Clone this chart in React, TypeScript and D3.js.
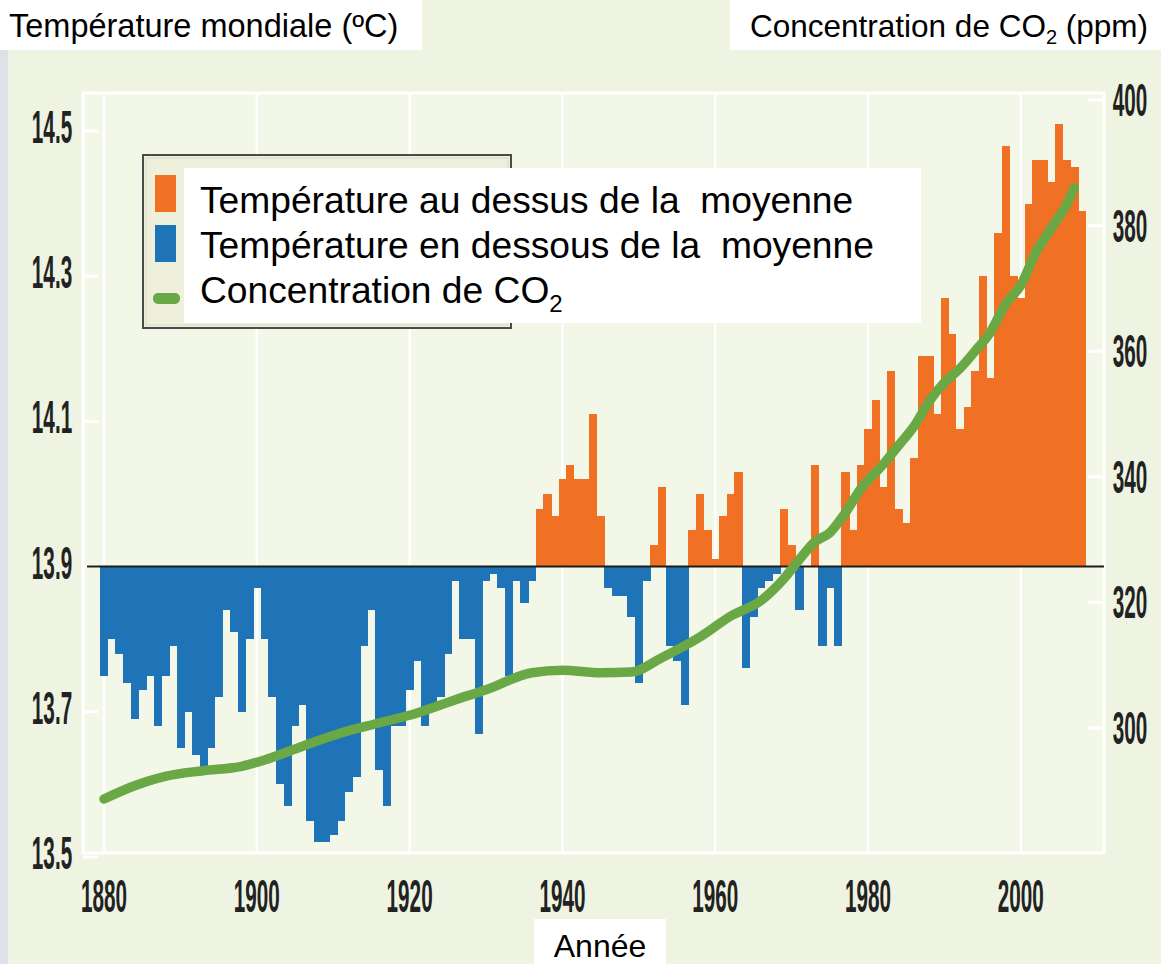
import * as React from 'react';
import * as d3 from 'd3';

// Température mondiale annuelle (°C), 1880 -> 2008, une valeur par an
const firstYear = 1880;
const temperatures = [
  13.75, 13.8, 13.78, 13.74, 13.69, 13.73, 13.75, 13.68, 13.75, 13.79,
  13.65, 13.7, 13.64, 13.62, 13.65, 13.72, 13.84, 13.81, 13.7, 13.8,
  13.87, 13.8, 13.72, 13.6, 13.57, 13.68, 13.71, 13.55, 13.52, 13.52,
  13.53, 13.55, 13.59, 13.61, 13.79, 13.84, 13.62, 13.57, 13.68, 13.68,
  13.73, 13.77, 13.68, 13.71, 13.72, 13.78, 13.88, 13.8, 13.8, 13.67,
  13.88, 13.89, 13.87, 13.75, 13.88, 13.85, 13.88, 13.98, 14.0, 13.97,
  14.02, 14.04, 14.02, 14.02, 14.11, 13.97, 13.87, 13.86, 13.86, 13.83,
  13.74, 13.88, 13.93, 14.01, 13.79, 13.77, 13.71, 13.95, 14.0, 13.95,
  13.91, 13.97, 14.0, 14.03, 13.76, 13.83, 13.87, 13.88, 13.89, 13.98,
  13.93, 13.84, 13.9, 14.04, 13.79, 13.87, 13.79, 14.03, 13.95, 14.04,
  14.09, 14.13, 14.01, 14.17, 13.98, 13.96, 14.05, 14.19, 14.19, 14.11,
  14.27, 14.22, 14.09, 14.12, 14.17, 14.3, 14.16, 14.36, 14.48, 14.3,
  14.27, 14.4, 14.46, 14.46, 14.43, 14.51, 14.46, 14.45, 14.39,
];
const years = temperatures.map((_, i) => firstYear + i);
const baseline = 13.9;

// Concentration de CO2 (ppm)
const co2Years = [
  1880, 1884, 1888, 1893, 1898, 1901, 1906, 1911, 1916, 1921, 1926, 1930,
  1936, 1940, 1945, 1949, 1953, 1958, 1962, 1966, 1969, 1971, 1973, 1975,
  1977, 1979, 1982, 1984, 1986, 1988, 1990, 1992, 1994, 1996, 1998, 2000,
  2002, 2004, 2006, 2007,
];
const co2Values = [
  288.7, 290.8, 292.3, 293.2, 293.9, 294.9, 297.1, 299.2, 300.8, 302.4, 304.5, 306.1,
  308.8, 309.2, 308.8, 308.9, 311.2, 314.5, 317.8, 320.3, 323.8, 326.8, 329.6, 331.1,
  334.2, 338.0, 342.0, 345.0, 348.0, 352.0, 355.0, 357.2, 360.0, 363.0, 367.5, 370.5,
  375.8, 379.6, 383.4, 386.0,
];

const yearTicks = [1880, 1900, 1920, 1940, 1960, 1980, 2000];
const tempTicks = [13.5, 13.7, 13.9, 14.1, 14.3, 14.5];
const co2Ticks = [300, 320, 340, 360, 380, 400];

const legendItems = [
  { label: 'Température au dessus de la  moyenne', kind: 'above' },
  { label: 'Température en dessous de la  moyenne', kind: 'below' },
  { label: 'Concentration de CO', kind: 'co2' },
];

const W = 1161;
const H = 964;
const ORANGE = '#f07024';
const BLUE = '#1f74b8';
const GREEN = '#6aa845';
const FONT = 'Liberation Sans, Arial, sans-serif';

const x = d3
  .scaleBand<number>()
  .domain(years)
  .range([100.2, 100.2 + years.length * 7.64])
  .paddingInner(0);
const bw = x.bandwidth();
const xc = (yr: number) => (x(yr) as number) + bw / 2;
const y = d3.scaleLinear().domain([13.5, 14.5]).range([857, 131]);
const yCo2 = d3.scaleLinear().domain([300, 400]).range([728, 100]);

const co2Line = d3
  .line<number>()
  .x((_, i) => xc(co2Years[i]))
  .y((v) => yCo2(v))
  .curve(d3.curveMonotoneX);

const plot = { left: 83, top: 93, right: 1104, bottom: 853 };

// condensed tick label, squeezed horizontally
const TickLabel = ({ cx, by, text }: { cx: number; by: number; text: string }) => (
  <text
    transform={`translate(${cx},${by}) scale(0.45,1)`}
    textAnchor="middle"
    fontFamily={FONT}
    fontWeight="bold"
    fontSize={46}
    fill="#222"
  >
    {text}
  </text>
);

export default function App() {
  const y0 = y(baseline);

  return (
    <svg
      width={W}
      height={H}
      viewBox={`0 0 ${W} ${H}`}
      style={{ position: 'absolute', left: 0, top: 0, display: 'block' }}
    >
      <rect width={W} height={H} fill="#eef4e1" />
      <rect x={0} y={50} width={8} height={H - 50} fill="#dfe1e6" />

      {/* plot panel */}
      <rect
        x={plot.left}
        y={plot.top}
        width={plot.right - plot.left}
        height={plot.bottom - plot.top}
        fill="#f3f7e8"
        stroke="#ffffff"
        strokeWidth={3}
      />
      {yearTicks.map((yr) => (
        <line
          key={yr}
          x1={xc(yr)}
          x2={xc(yr)}
          y1={plot.top}
          y2={plot.bottom}
          stroke="#ffffff"
          strokeWidth={2.5}
        />
      ))}
      {tempTicks.map((t) => (
        <line key={t} x1={plot.left} x2={98} y1={y(t)} y2={y(t)} stroke="#ffffff" strokeWidth={3} />
      ))}
      {co2Ticks.map((c) => (
        <line key={c} x1={1088} x2={plot.right} y1={yCo2(c)} y2={yCo2(c)} stroke="#ffffff" strokeWidth={3} />
      ))}

      {/* bars */}
      {temperatures.map((t, i) => {
        const yr = years[i];
        const yt = y(t);
        return (
          <rect
            key={yr}
            x={x(yr)}
            y={Math.min(yt, y0)}
            width={bw + 0.6}
            height={Math.abs(yt - y0)}
            fill={t >= baseline ? ORANGE : BLUE}
            shapeRendering="crispEdges"
          />
        );
      })}
      <line x1={87} x2={plot.right} y1={y0} y2={y0} stroke="#1c1c1c" strokeWidth={2} />

      {/* CO2 */}
      <path
        d={co2Line(co2Values) || ''}
        fill="none"
        stroke={GREEN}
        strokeWidth={9.5}
        strokeLinecap="round"
        strokeLinejoin="round"
      />

      {/* legend */}
      <rect x={143} y={155} width={368} height={173} fill="#eef0dc" stroke="#4a4a4a" strokeWidth={2} />
      <rect x={146} y={158} width={362} height={167} fill="none" stroke="#d8dac8" strokeWidth={1} />
      <rect x={184} y={168} width={737} height={155} fill="#ffffff" />
      {legendItems.map((it, i) => {
        const base = 213 + i * 45;
        return (
          <g key={it.kind}>
            {it.kind === 'co2' ? (
              <rect x={153} y={base - 10} width={27} height={11} rx={5} fill={GREEN} />
            ) : (
              <rect
                x={155}
                y={i === 0 ? 175 : 225}
                width={21}
                height={37}
                fill={it.kind === 'above' ? ORANGE : BLUE}
              />
            )}
            <text
              x={200}
              y={base}
              fontFamily={FONT}
              fontSize={37.2}
              fill="#000"
              style={{ whiteSpace: 'pre' }}
            >
              {it.label}
              {it.kind === 'co2' && (
                <tspan fontSize={24} dy={9}>
                  2
                </tspan>
              )}
            </text>
          </g>
        );
      })}

      {/* axes */}
      {tempTicks.map((t) => (
        <TickLabel key={t} cx={52} by={y(t) + 12} text={d3.format('.1f')(t)} />
      ))}
      {co2Ticks.map((c) => (
        <TickLabel key={c} cx={1130} by={yCo2(c) + 16} text={String(c)} />
      ))}
      {yearTicks.map((yr) => (
        <TickLabel key={yr} cx={xc(yr)} by={912} text={String(yr)} />
      ))}

      {/* titles */}
      <rect x={0} y={0} width={422} height={50} fill="#ffffff" />
      <text x={9} y={37} fontFamily={FONT} fontSize={32.5} fill="#000">
        Température mondiale (ºC)
      </text>
      <rect x={730} y={0} width={W - 730} height={50} fill="#ffffff" />
      <text x={750} y={37} fontFamily={FONT} fontSize={31.5} fill="#000">
        Concentration de CO
        <tspan fontSize={20} dy={7}>
          2
        </tspan>
        <tspan dy={-7}> (ppm)</tspan>
      </text>
      <rect x={534} y={919} width={132} height={H - 919} fill="#ffffff" />
      <text x={600} y={957} textAnchor="middle" fontFamily={FONT} fontSize={32} fill="#000">
        Année
      </text>
    </svg>
  );
}
